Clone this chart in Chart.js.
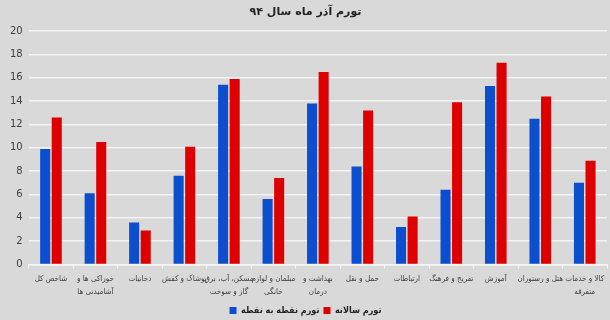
<!DOCTYPE html>
<html>
<head>
<meta charset="utf-8">
<script src="https://cdn.jsdelivr.net/npm/chart.js@4"></script>
<style>
  html, body { margin: 0; padding: 0; background: #d9d9d9; }
  #wrap { width: 610px; height: 320px; position: relative; }
</style>
</head>
<body>
<div id="wrap"><canvas id="c"></canvas></div>
<script>
// Data
const categories = [
  'شاخص کل',
  ['خوراکی ها و', 'آشامیدنی ها'],
  'دخانیات',
  'پوشاک و کفش',
  ['مسکن، آب، برق', 'گاز و سوخت'],
  ['مبلمان و لوازم', 'خانگی'],
  ['بهداشت و', 'درمان'],
  'حمل و نقل',
  'ارتباطات',
  'تفریح و فرهنگ',
  'آموزش',
  'هتل و رستوران',
  ['کالا و خدمات', 'متفرقه']
];
const pointToPoint = [9.9, 6.1, 3.6, 7.6, 15.4, 5.6, 13.8, 8.4, 3.2, 6.4, 15.3, 12.5, 7.0];
const annual = [12.6, 10.5, 2.9, 10.1, 15.9, 7.4, 16.5, 13.2, 4.1, 13.9, 17.3, 14.4, 8.9];
const yTicks = [0, 2, 4, 6, 8, 10, 12, 14, 16, 18, 20];

const fontFamily = 'Tahoma, "DejaVu Sans", sans-serif';
const labelFamily = '"DejaVu Sans Condensed", "DejaVu Sans", sans-serif';
const textColor = '#404040';

new Chart(document.getElementById('c'), {
  type: 'bar',
  data: {
    labels: categories,
    datasets: [
      {
        label: 'تورم نقطه به نقطه',
        data: pointToPoint,
        backgroundColor: '#0b4fce',
        categoryPercentage: 0.52,
        barPercentage: 0.87
      },
      {
        label: 'تورم سالانه',
        data: annual,
        backgroundColor: '#de0000',
        categoryPercentage: 0.52,
        barPercentage: 0.87
      }
    ]
  },
  options: {
    responsive: true,
    maintainAspectRatio: false,
    animation: false,
    layout: { padding: { left: 4, right: 3, top: 2, bottom: -5 } },
    plugins: {
      title: {
        display: true,
        text: 'تورم آذر ماه سال ۹۴',
        color: '#222',
        font: { family: fontFamily, size: 11, weight: 'bold' },
        padding: { top: 4, bottom: 12 }
      },
      legend: {
        position: 'bottom',
        labels: {
          color: '#222',
          font: { family: labelFamily, size: 9, weight: 'bold' },
          boxWidth: 7,
          boxHeight: 7,
          padding: 4
        }
      },
      tooltip: { enabled: false }
    },
    scales: {
      x: {
        grid: {
          display: true,
          drawOnChartArea: false,
          drawTicks: true,
          tickLength: 4,
          color: '#f4f4f4',
          offset: true
        },
        border: { display: true, color: '#f4f4f4', width: 1.5 },
        ticks: {
          color: textColor,
          font: { family: labelFamily, size: 8, lineHeight: 1.6 },
          maxRotation: 0,
          autoSkip: false,
          padding: 4
        }
      },
      y: {
        min: 0,
        max: 20,
        afterBuildTicks: axis => { axis.ticks = yTicks.map(v => ({ value: v })); },
        grid: { color: '#f4f4f4', lineWidth: 1.5, drawTicks: false },
        border: { display: false },
        ticks: {
          color: textColor,
          font: { family: fontFamily, size: 10 },
          padding: 6
        }
      }
    }
  }
});
</script>
</body>
</html>
